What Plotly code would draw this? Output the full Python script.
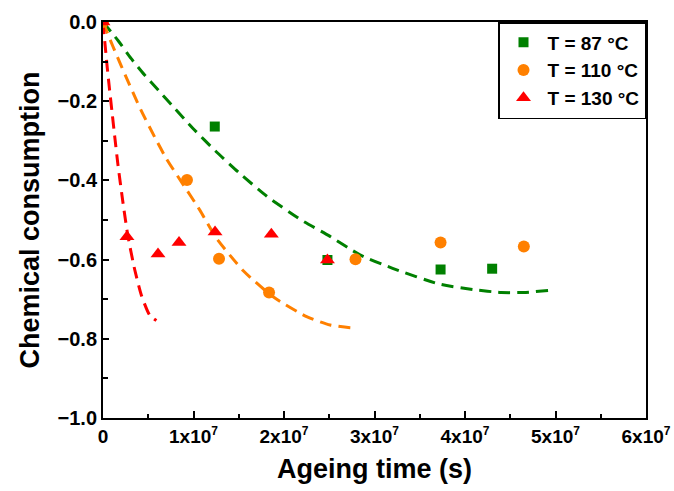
import plotly.graph_objects as go

# Measured points (ageing time in s, chemical consumption)
t87 = [0, 1.235e7, 2.48e7, 3.73e7, 4.30e7]
c87 = [0, -0.264, -0.601, -0.625, -0.623]
t110 = [0, 0.928e7, 1.282e7, 1.835e7, 2.79e7, 3.73e7, 4.65e7]
c110 = [0, -0.399, -0.598, -0.683, -0.599, -0.557, -0.567]
t130 = [0, 0.265e7, 0.608e7, 0.840e7, 1.238e7, 1.86e7, 2.48e7]
c130 = [0, -0.542, -0.586, -0.557, -0.530, -0.536, -0.601]

# Fitted curves
fit87_t = [0, 0.17e7, 0.31e7, 0.46e7, 0.61e7, 0.76e7, 1.0e7, 1.24e7, 1.5e7, 1.81e7, 2.19e7,
           2.5e7, 2.84e7, 3.2e7, 3.72e7, 4.1e7, 4.4e7, 4.65e7, 4.92e7]
fit87_c = [0, -0.048, -0.092, -0.134, -0.172, -0.21, -0.27, -0.325, -0.38, -0.44, -0.5,
           -0.54, -0.588, -0.622, -0.662, -0.676, -0.683, -0.683, -0.678]
fit110_t = [0, 0.11e7, 0.2e7, 0.28e7, 0.37e7, 0.44e7, 0.57e7, 0.70e7, 0.87e7, 1.07e7, 1.25e7,
            1.55e7, 1.88e7, 2.25e7, 2.51e7, 2.73e7, 2.80e7]
fit110_c = [0, -0.062, -0.11, -0.152, -0.198, -0.232, -0.29, -0.345, -0.405, -0.475, -0.545,
            -0.628, -0.694, -0.744, -0.765, -0.772, -0.773]
fit130_t = [0, 0.02e7, 0.047e7, 0.073e7, 0.10e7, 0.13e7, 0.165e7, 0.22e7, 0.275e7, 0.35e7,
            0.424e7, 0.515e7, 0.59e7]
fit130_c = [0, -0.05, -0.115, -0.172, -0.228, -0.29, -0.36, -0.455, -0.54, -0.625,
            -0.69, -0.74, -0.754]

x_tickvals = [0, 1e7, 2e7, 3e7, 4e7, 5e7, 6e7]
x_tick_mantissa = ["1", "2", "3", "4", "5", "6"]
SUP = '<sup><span style="font-size:12px">7</span></sup>'
x_ticktext = ["0"] + [m + "x10" + SUP for m in x_tick_mantissa]

GREEN = "#008000"
ORANGE = "#FF8000"
RED = "#FF0000"
FONT = "Liberation Sans, Arial, sans-serif"

fig = go.Figure()
for tx, cy, col in [(fit87_t, fit87_c, GREEN), (fit110_t, fit110_c, ORANGE), (fit130_t, fit130_c, RED)]:
    fig.add_trace(go.Scatter(x=tx, y=cy, mode="lines", showlegend=False, hoverinfo="skip",
                             line=dict(color=col, width=3, dash="12px,7px", shape="spline",
                                       smoothing=0.6)))

fig.add_trace(go.Scatter(x=t87, y=c87, mode="markers", name="T = 87 °C",
                         marker=dict(symbol="square", size=10, color=GREEN)))
fig.add_trace(go.Scatter(x=t110, y=c110, mode="markers", name="T = 110 °C",
                         marker=dict(symbol="circle", size=12, color=ORANGE)))
fig.add_trace(go.Scatter(x=t130, y=c130, mode="markers", name="T = 130 °C",
                         marker=dict(symbol="triangle-up", size=13, color=RED)))

fig.update_layout(
    width=674, height=491,
    margin=dict(l=103, r=28, t=22, b=73),
    paper_bgcolor="white", plot_bgcolor="white",
    font=dict(family=FONT, color="black"),
    legend=dict(x=1, y=1, xanchor="right", yanchor="top",
                bordercolor="black", borderwidth=1.5, bgcolor="white",
                font=dict(family=FONT, size=19, weight="bold", color="black"),
                itemwidth=38, tracegroupgap=0),
    showlegend=True,
)
fig.update_xaxes(
    range=[0, 6e7], tickvals=x_tickvals, ticktext=x_ticktext, automargin=False,
    showgrid=False, zeroline=False, showline=True, linecolor="black", linewidth=2,
    mirror=True, ticks="inside", ticklen=7, tickwidth=2, tickcolor="black",
    minor=dict(dtick=5e6, ticks="inside", ticklen=4, tickwidth=2, tickcolor="black"),
    tickfont=dict(family=FONT, size=19, weight="bold"),
    title=dict(text="Ageing time (s)", font=dict(family=FONT, size=27, weight="bold"), standoff=13),
)
fig.update_yaxes(
    range=[-1, 0], dtick=0.2, tickformat=".1f", automargin=False,
    showgrid=False, zeroline=False, showline=True, linecolor="black", linewidth=2,
    mirror=True, ticks="inside", ticklen=6, tickwidth=2, tickcolor="black",
    minor=dict(dtick=0.1, ticks="inside", ticklen=5, tickwidth=2, tickcolor="black"),
    tickfont=dict(family=FONT, size=20, weight="bold"),
    title=dict(text="Chemical consumption", font=dict(family=FONT, size=27, weight="bold"), standoff=10),
)

# Remove the default page margin so the 674x491 figure fills the window exactly.
fig.write_html(
    "out.html",
    config={"displayModeBar": False},
    post_script="document.body.style.margin='0';document.body.style.overflow='hidden';",
)
